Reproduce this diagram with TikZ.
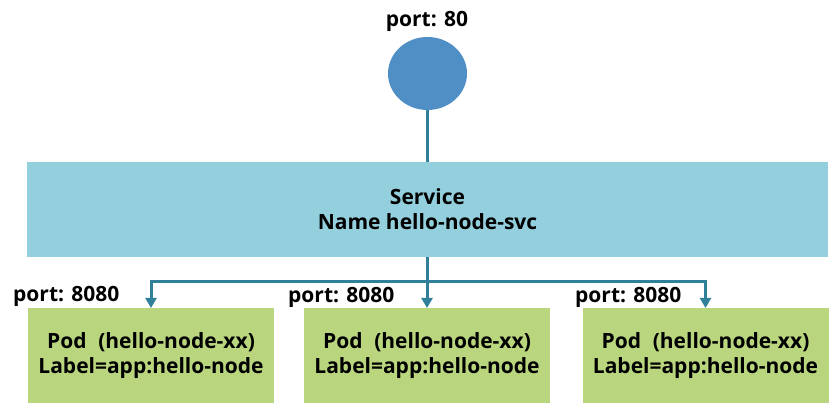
\documentclass[tikz,border=0pt]{standalone}
\usepackage{fontspec}
\setmainfont{Open Sans}
\usetikzlibrary{shapes.geometric,arrows.meta}
\definecolor{portblue}{HTML}{4F8FC6}
\definecolor{svcblue}{HTML}{93CFDC}
\definecolor{podgreen}{HTML}{B9D67E}
\definecolor{connteal}{HTML}{31809A}
\tikzset{
  txt/.style={font=\fontsize{21}{25}\selectfont\bfseries, text=black},
  portdot/.style={ellipse, fill=portblue, minimum width=79pt, minimum height=73pt, inner sep=0pt},
  svcbox/.style={rectangle, fill=svcblue, minimum width=801pt, minimum height=95pt, inner sep=0pt, align=center, txt},
  podbox/.style={rectangle, fill=podgreen, minimum width=246pt, minimum height=95pt, inner sep=0pt, align=center, txt},
  portlbl/.style={txt, anchor=base west, inner sep=0pt},
  conn/.style={draw=connteal, line width=3pt},
  connarrow/.style={conn, -{Triangle[length=10pt,width=11pt]}}
}
\begin{document}
\begin{tikzpicture}[x=1pt,y=-1pt]
\useasboundingbox (0,0) rectangle (831,403);
\node[portdot] (dot) at (427.5,73.5) {};
\node[txt, anchor=base, inner sep=0pt] (p80) at (427,27) {port: 80};
\node[svcbox] (svc) at (427.5,209.5) {Service\\Name hello-node-svc};
\node[podbox, anchor=north] (pod1) at (151,308) {Pod\hspace{0.3em} (hello-node-xx)\\Label=app:hello-node};
\node[podbox, anchor=north] (pod2) at (427,308) {Pod\hspace{0.3em} (hello-node-xx)\\Label=app:hello-node};
\node[podbox, anchor=north] (pod3) at (705.5,308) {Pod\hspace{0.3em} (hello-node-xx)\\Label=app:hello-node};
\node[portlbl] (l1) at (13,302) {port: 8080};
\node[portlbl] (l2) at (288,303) {port: 8080};
\node[portlbl] (l3) at (575,303) {port: 8080};
\coordinate (bus) at (427,282);
\draw[conn] (dot.south) -- (svc.north -| dot.south);
\draw[connarrow] (svc.south -| bus) -- (pod2.north);
\draw[connarrow] (bus) -| (pod1.north);
\draw[connarrow] (bus) -| (pod3.north);
\end{tikzpicture}
\end{document}
